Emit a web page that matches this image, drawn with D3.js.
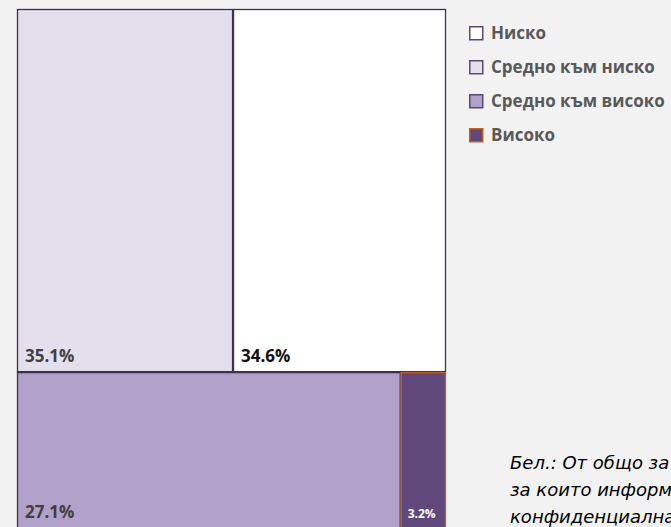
<!DOCTYPE html>
<html>
<head>
<meta charset="utf-8">
<script src="https://cdn.jsdelivr.net/npm/d3@7"></script>
<style>
  body { margin: 0; background: #f2f2f2; }
  svg { display: block; }
</style>
</head>
<body>
<div id="chart"></div>
<script>
// data
const categories = ["Ниско", "Средно към ниско", "Средно към високо", "Високо"];
const shares = [34.6, 35.1, 27.1, 3.2];
const noteLines = [
    "Бел.: От общо за страната са изключени общините,",
    "за които информацията е",
    "конфиденциална."
];

const width = 671;
const height = 527;
const margin = { top: 9, left: 17 };
const mapW = 429;
const mapH = 521;

const fillScale = d3.scaleOrdinal()
    .domain(categories)
    .range(["#ffffff", "#e4dfec", "#b1a0c7", "#60497a"]);
const strokeScale = d3.scaleOrdinal()
    .domain(categories)
    .range(["#403151", "#403151", "#403151", "#c0601f"]);
const labelColor = d3.scaleOrdinal()
    .domain(categories)
    .range(["#111111", "#404040", "#404040", "#ffffff"]);

const svg = d3.select("#chart")
    .append("svg")
    .attr("width", width)
    .attr("height", height);

const root = d3.hierarchy({
        children: categories.map((c, i) => ({ name: c, value: shares[i] }))
    })
    .sum(d => d.value || 0)
    .sort((a, b) => b.value - a.value);

d3.treemap()
    .tile(d3.treemapSquarify.ratio(1))
    .size([mapW, mapH])(root);

const group = svg.append("g")
    .attr("transform", "translate(" + margin.left + "," + margin.top + ")");

const cell = group.selectAll("g.cell")
    .data(root.leaves())
    .enter()
    .append("g")
    .attr("class", "cell")
    .attr("transform", d => "translate(" + d.x0 + "," + d.y0 + ")");

cell.append("rect")
    .attr("x", 0.5)
    .attr("y", 0.5)
    .attr("width", d => d.x1 - d.x0 - 1)
    .attr("height", d => d.y1 - d.y0 - 1)
    .attr("fill", d => fillScale(d.data.name))
    .attr("stroke", d => strokeScale(d.data.name))
    .attr("stroke-width", 1.3);

// labels bottom-left
cell.append("text")
    .attr("x", d => (d.x1 - d.x0) < 80 ? 7 : 8)
    .attr("y", d => Math.min(d.y1, mapH) - d.y0 - (d.y1 > 500 ? 12 : 10))
    .attr("fill", d => labelColor(d.data.name))
    .style("font-family", "'Open Sans', 'Noto Sans', sans-serif")
    .style("font-weight", "bold")
    .style("font-size", d => (d.x1 - d.x0) < 80 ? "12px" : "17px")
    .text(d => d.data.value.toFixed(1) + "%");

// legend
const legend = svg.append("g")
    .attr("transform", "translate(469,26)");

const item = legend.selectAll("g")
    .data(categories)
    .enter()
    .append("g")
    .attr("transform", (d, i) => "translate(0," + i * 34 + ")");

item.append("rect")
    .attr("x", 0.75)
    .attr("y", 0.75)
    .attr("width", 13)
    .attr("height", 13)
    .attr("fill", d => fillScale(d))
    .attr("stroke", d => d === "Високо" ? "#c0601f" : "#5a4a70")
    .attr("stroke-width", 1.5);

item.append("text")
    .attr("x", 22)
    .attr("y", 13)
    .attr("fill", "#595959")
    .style("font-family", "'Open Sans', 'Noto Sans', sans-serif")
    .style("font-weight", "bold")
    .style("font-size", "17px")
    .text(d => d);

// note (clipped by the right edge, as in the original)
svg.append("g")
    .selectAll("text")
    .data(noteLines)
    .enter()
    .append("text")
    .attr("x", 510)
    .attr("y", (d, i) => 469 + i * 27)
    .attr("fill", "#000")
    .style("font-family", "'DejaVu Sans', Verdana, sans-serif")
    .style("font-style", "italic")
    .style("font-size", "18px")
    .text(d => d);
</script>
</body>
</html>
